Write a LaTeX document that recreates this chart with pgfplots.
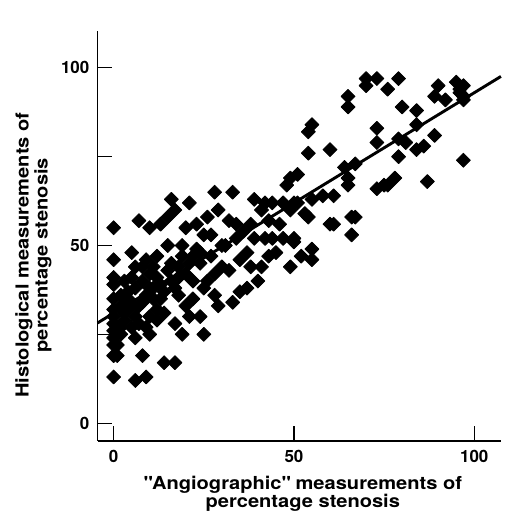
\documentclass[border=0pt]{standalone}
\usepackage{fontspec}
\setmainfont{TeX Gyre Heros}
\newfontfamily\labfont[FakeStretch=1.12]{TeX Gyre Heros}
\usepackage{pgfplots}
\pgfplotsset{compat=1.18}
\pgfplotstableread{
x y
0 55
0 46
0 41
0 39
0 35
0 32
0 30
0 28
0 26
0 24
0 22
0 19
0 13
1 19
1 22
2 27
2 33
2 36
3 29
3 31
3 40
3 35
2 25
5 27
5 41
5 48
4 37
5 34
6 12
6 38
6 44
6 30
6 24
4 32
7 57
7 28
8 34
8 19
9 13
9 27
8 44
9 36
10 25
10 30
10 55
8 40
7 33
9 46
10 38
10 42
13 56
12 47
11 35
11 38
12 41
13 35
12 29
14 31
14 17
15 43
15 58
16 63
13 39
12 32
14 37
15 50
11 44
16 40
17 17
17 28
17 60
18 44
19 25
19 50
18 41
16 45
18 36
20 33
19 47
17 38
20 42
21 45
22 47
21 62
20 55
23 56
23 49
25 25
24 48
25 38
22 40
24 45
22 35
25 53
21 30
24 30
26 58
27 53
28 42
28 36
29 60
27 47
30 44
30 50
26 40
29 33
28 65
32 57
33 65
31 50
33 34
35 46
35 37
34 56
32 43
34 52
36 54
38 56
38 44
39 63
40 40
41 60
37 48
39 52
37 38
42 62
43 57
42 52
43 47
44 62
44 52
45 48
41 44
47 62
47 52
48 67
49 60
49 44
49 69
50 52
50 51
46 56
50 62
51 70
52 47
54 58
55 49
55 46
55 84
55 63
54 76
54 82
51 62
53 59
60 77
60 56
58 64
61 56
61 64
64 72
65 69
65 67
65 89
65 92
66 58
66 53
67 73
67 58
70 97
70 95
73 97
73 66
73 83
73 79
75 67
76 94
76 67
79 97
79 80
79 75
78 69
80 89
81 79
84 88
84 77
84 84
86 78
87 68
89 81
89 92
90 95
92 91
95 96
96 94
96 93
97 92
97 91
97 74
97 95
}\datatable
\begin{document}
\begin{tikzpicture}
\begin{axis}[
  scale only axis, width=416.3bp, height=422.7bp,
  xmin=-4.46, xmax=107.4, ymin=-5, ymax=110.3,
  axis x line=bottom, axis y line=left,
  axis line style={-, line width=1.4bp},
  xtick={0,50,100}, ytick={0,25,50,75,100}, yticklabels={0,,50,,100},
  tick align=inside, major tick length=15bp,
  tick style={line width=1.2bp, black},
  /pgf/number format/assume math mode=true,
  tick label style={font=\fontsize{17.5bp}{20bp}\selectfont\bfseries},
  xticklabel style={yshift=-6bp},
  yticklabel style={xshift=-5bp},
  clip=false,
]
\addplot[only marks, mark=square*, mark size=5.1bp,
  mark options={rotate=45, line join=round, fill=black, draw=black, line width=0.8bp}]
  table[x=x, y=y] {\datatable};
\addplot[line width=3bp, black] coordinates {(-4.46,28.2) (107.4,97.6)};
\node[rotate=90, align=center, font=\labfont\fontsize{18.5bp}{19.5bp}\selectfont\bfseries]
  at (axis description cs:-0.159,0.4535) {Histological measurements of\\percentage stenosis};
\node[align=center, font=\labfont\fontsize{18.5bp}{19bp}\selectfont\bfseries]
  at (axis description cs:0.5088,-0.1285) {\textquotedbl Angiographic\textquotedbl{} measurements of\\percentage stenosis};
\path (axis description cs:0,0) ++(-100.7bp,-74.3bp) coordinate (bl);
\path (axis description cs:1,1) ++(0,14bp) coordinate (tr);
\end{axis}
\pgfresetboundingbox
\path[use as bounding box] (bl) rectangle (tr);
\end{tikzpicture}
\end{document}
